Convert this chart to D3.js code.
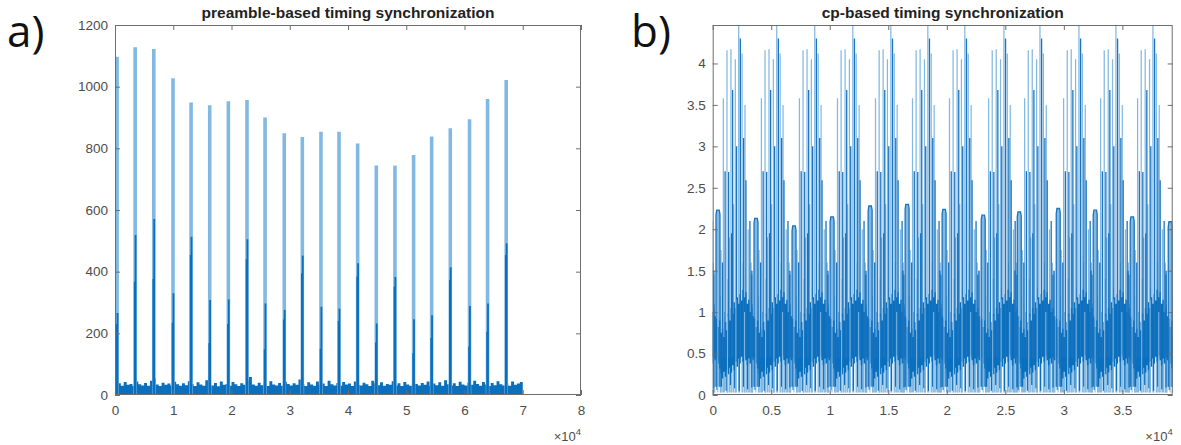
<!DOCTYPE html>
<html>
<head>
<meta charset="utf-8">
<script src="https://cdn.jsdelivr.net/npm/d3@7"></script>
<style>
  body { margin: 0; background: #fff; }
  svg { display: block; font-family: "Liberation Sans", Arial, sans-serif; }
</style>
</head>
<body>
<svg id="chart" width="1181" height="445"></svg>
<script>
// ---------- a) preamble-based timing synchronization ----------
// peak locations (x 1e4 samples) and the three levels seen at each peak
const preamblePos = [0.03, 0.34, 0.66, 0.99, 1.30, 1.62, 1.94, 2.26, 2.57, 2.90, 3.21,
                     3.53, 3.84, 4.16, 4.48, 4.80, 5.12, 5.43, 5.75, 6.08, 6.39, 6.71];
const preambleTop = [1097, 1128, 1122, 1027, 949, 940, 953, 957, 900, 849, 837,
                     854, 854, 816, 744, 744, 778, 838, 865, 894, 960, 1022];
const preambleMid = [266, 519, 571, 330, 513, 308, 310, 505, 297, 276, 452,
                     286, 280, 427, 232, 383, 246, 259, 414, 289, 297, 492];
const preambleLow = [230, 367, 376, 234, 454, 168, 230, 440, 148, 245, 395,
                     150, 240, 384, 170, 351, 136, 185, 373, 157, 205, 454];
// noise floor, one value every 500 samples from 0 to 70000
const preambleFloor = [
  60, 38, 30, 42, 33, 36, 29, 44, 35, 31, 39, 30, 46, 55, 34, 29, 40, 33, 37, 31,
  43, 35, 30, 38, 32, 45, 36, 29, 41, 34, 30, 48, 37, 31, 39, 28, 44, 33, 36, 30,
  42, 35, 29, 38, 33, 47, 58, 34, 30, 40, 32, 37, 29, 45, 34, 31, 39, 30, 43, 36,
  31, 38, 33, 50, 36, 29, 41, 34, 30, 44, 32, 37, 29, 46, 35, 31, 39, 30, 42, 34,
  37, 29, 44, 33, 31, 40, 35, 29, 46, 38, 32, 41, 30, 36, 33, 45, 31, 38, 29, 42,
  34, 30, 47, 36, 31, 39, 33, 44, 29, 37, 32, 41, 30, 48, 35, 31, 38, 29, 43, 34,
  31, 40, 33, 46, 36, 30, 42, 34, 29, 39, 32, 45, 35, 31, 38, 30, 44, 33, 37, 42, 36];
const preambleXTicks = [0, 1, 2, 3, 4, 5, 6, 7, 8];
const preambleYTicks = [0, 200, 400, 600, 800, 1000, 1200];

// ---------- b) cp-based timing synchronization ----------
// start (samples) and level of the flat ~2.2 plateau in every frame
const cpHumpX = [280, 3530, 6780, 10030, 13280, 16440, 19600, 22940, 26020, 29350, 32510, 35670, 38920];
const cpHumpLevel = [2.23, 2.13, 2.04, 2.15, 2.28, 2.30, 2.24, 2.17, 2.21, 2.25, 2.23, 2.15, 2.09];
// spikes inside one frame, offset from the plateau start (samples)
const cpLightOffset = [-230, -120, 380, 430, 520, 630, 720, 940, 1010, 1150, 1280, 1360, 1500,
                       1650, 1720, 1940, 2010, 2230, 2300, 2480, 2620, 2750, 2850, 3000, 3100];
const cpLightHeight = [1.50, 0.90, 1.20, 1.75, 0.60, 3.58, 1.00, 4.16, 1.40, 1.90, 4.17, 0.80, 2.30,
                       4.05, 1.30, 4.60, 0.90, 4.12, 1.60, 3.50, 1.00, 2.00, 0.70, 1.60, 1.10];
const cpDarkOffset = [-180, 560, 780, 1080, 1330, 1420, 1760, 2080, 2360, 2560, 2900, 3050];
const cpDarkHeight = [1.50, 1.60, 2.70, 2.69, 1.95, 3.68, 3.00, 4.30, 3.10, 2.59, 2.10, 1.45];
// short dark strokes reaching down to the bottom
const cpDipOffset = [90, 460, 870, 1240, 1600, 1990, 2350, 2700, 3060];
const cpDipLow = [0.06, 0.10, 0.05, 0.12, 0.08, 0.05, 0.10, 0.07, 0.09];
// dense low band inside one frame
const cpBandOffset = [0, 120, 250, 380, 500, 620, 750, 880, 1000, 1120, 1250, 1380, 1500,
                      1620, 1750, 1880, 2000, 2120, 2250, 2380, 2500, 2620, 2750, 2870, 3000, 3120];
const cpBandLow = [0.45, 0.38, 0.32, 0.26, 0.20, 0.28, 0.22, 0.30, 0.25, 0.33, 0.27, 0.36, 0.30,
                   0.40, 0.34, 0.44, 0.38, 0.46, 0.40, 0.48, 0.42, 0.36, 0.44, 0.38, 0.46, 0.42];
const cpBandHigh = [0.92, 0.82, 0.90, 0.75, 0.80, 0.70, 0.88, 0.78, 0.98, 0.90, 1.05, 0.98, 1.12,
                    1.05, 1.18, 1.10, 1.22, 1.14, 1.27, 1.18, 1.24, 1.10, 1.15, 1.00, 1.05, 0.95];
const cpStreakOffset = [160, 980, 1700, 2440];
const cpStreakHeight = [1.05, 0.95, 1.15, 1.00];
const cpXTicks = [0, 0.5, 1, 1.5, 2, 2.5, 3, 3.5];
const cpYTicks = [0, 0.5, 1, 1.5, 2, 2.5, 3, 3.5, 4];

const light = "#82b9e3", dark = "#0a6fbd", mid = "#1a74c0";
const axisColor = "#6e6e6e", labelColor = "#4d4d4d";

const svg = d3.select("#chart");

function drawFrame(g, x, y, xTicks, yTicks, xFmt, title, id) {
  const [x0, x1] = x.range(), [yb, yt] = y.range();

  g.append("clipPath").attr("id", id)
    .append("rect").attr("x", x0).attr("y", yt).attr("width", x1 - x0).attr("height", yb - yt);

  const style = (a) => {
    a.select(".domain").remove();
    a.selectAll(".tick line").attr("stroke", axisColor);
    a.selectAll(".tick text").attr("fill", labelColor).style("font-size", "13.5px")
      .style("font-family", '"Liberation Sans", Arial, sans-serif');
  };
  g.append("g").attr("transform", `translate(0,${yb})`)
    .call(d3.axisBottom(x).tickValues(xTicks.map(t => t * 1e4)).tickFormat(d => xFmt(d / 1e4))
      .tickSizeInner(-5).tickSizeOuter(0).tickPadding(10))
    .call(style);
  g.append("g").attr("transform", `translate(0,${yt})`)
    .call(d3.axisTop(x).tickValues(xTicks.map(t => t * 1e4)).tickFormat("")
      .tickSizeInner(-5).tickSizeOuter(0))
    .call(style);
  g.append("g").attr("transform", `translate(${x0},0)`)
    .call(d3.axisLeft(y).tickValues(yTicks).tickFormat(d => d)
      .tickSizeInner(-5).tickSizeOuter(0).tickPadding(7))
    .call(style);
  g.append("g").attr("transform", `translate(${x1},0)`)
    .call(d3.axisRight(y).tickValues(yTicks).tickFormat("")
      .tickSizeInner(-5).tickSizeOuter(0))
    .call(style);

  g.append("rect").attr("x", x0 + 0.5).attr("y", yt + 0.5)
    .attr("width", x1 - x0 - 1).attr("height", yb - yt - 1)
    .attr("fill", "none").attr("stroke", axisColor).attr("stroke-width", 1);

  g.append("text").attr("x", (x0 + x1) / 2).attr("y", 18)
    .attr("text-anchor", "middle").attr("font-weight", "bold")
    .style("font-size", "15.5px").attr("fill", "#222").text(title);

  const ex = g.append("text").attr("x", x1).attr("y", 441)
    .attr("text-anchor", "end").attr("fill", labelColor).style("font-size", "13px");
  ex.append("tspan").text("\u00d710");
  ex.append("tspan").attr("dy", -6).style("font-size", "9.5px").text("4");
}

function vlines(g, data, x, y, color, width) {
  g.append("g").selectAll("line").data(data).join("line")
    .attr("x1", d => x(d.x)).attr("x2", d => x(d.x))
    .attr("y1", d => y(d.y0)).attr("y2", d => y(d.y1))
    .attr("stroke", color).attr("stroke-width", width);
}

// ---------- panel a ----------
{
  const x = d3.scaleLinear().domain([0, 80000]).range([115, 581]);
  const y = d3.scaleLinear().domain([0, 1200]).range([395, 25]);
  const g = svg.append("g");
  drawFrame(g, x, y, preambleXTicks, preambleYTicks, d => d, "preamble-based timing synchronization", "clipA");
  const plot = g.insert("g", "g").attr("clip-path", "url(#clipA)");

  const step = 70000 / (preambleFloor.length - 1);
  plot.append("path").datum(preambleFloor)
    .attr("d", d3.area().x((d, i) => x(i * step)).y0(y(0)).y1(d => y(d)).curve(d3.curveStepAfter))
    .attr("fill", dark);

  vlines(plot, preamblePos.map((p, i) => ({ x: p * 1e4 + 60, y0: 0, y1: preambleTop[i] })), x, y, light, 3.6);
  vlines(plot, preamblePos.map((p, i) => ({ x: p * 1e4 + 130, y0: 0, y1: preambleMid[i] })), x, y, dark, 1.8);
  vlines(plot, preamblePos.map((p, i) => ({ x: p * 1e4 - 10, y0: 0, y1: preambleLow[i] })), x, y, dark, 1.8);

  svg.append("text").attr("x", 7).attr("y", 47).attr("fill", "#111")
    .style("font-family", '"Open Sans", "Noto Sans", sans-serif').style("font-size", "44px").text("a)");
}

// ---------- panel b ----------
{
  const x = d3.scaleLinear().domain([0, 39300]).range([712.7, 1172.7]);
  const y = d3.scaleLinear().domain([0, 4.464]).range([395, 25]);
  const g = svg.append("g");
  drawFrame(g, x, y, cpXTicks, cpYTicks, d => d, "cp-based timing synchronization", "clipB");
  const plot = g.insert("g", "g").attr("clip-path", "url(#clipB)");

  const period = cpHumpX[1] - cpHumpX[0];
  const starts = [cpHumpX[0] - period, ...cpHumpX];

  const lightData = [], darkData = [], streakData = [], dipData = [];
  starts.forEach(s => {
    cpLightOffset.forEach((o, j) => lightData.push({ x: s + o, y0: 0.03, y1: cpLightHeight[j] }));
    cpDarkOffset.forEach((o, j) => darkData.push({ x: s + o, y0: 0.45, y1: cpDarkHeight[j] }));
    cpStreakOffset.forEach((o, j) => streakData.push({ x: s + o, y0: 0.03, y1: cpStreakHeight[j] }));
    cpDipOffset.forEach((o, j) => dipData.push({ x: s + o, y0: cpDipLow[j], y1: 0.5 }));
  });

  vlines(plot, lightData, x, y, light, 1.25);

  // plateaus
  const hump = (s, lv) => [[s, 0.1], [s, lv - 0.06], [s + 60, lv], [s + 280, lv], [s + 340, lv - 0.05], [s + 340, 0.1]];
  const line = d3.line().x(d => x(d[0])).y(d => y(d[1]));
  plot.append("g").selectAll("path").data(cpHumpX).join("path")
    .attr("d", (s, i) => line(hump(s, cpHumpLevel[i])))
    .attr("fill", light).attr("stroke", "none");

  const band = d3.area().x(d => x(d.x)).y0(d => y(d.lo)).y1(d => y(d.hi)).curve(d3.curveStepAfter);
  plot.append("g").selectAll("path").data(starts).join("path")
    .attr("d", s => {
      const pts = cpBandOffset.map((o, j) => ({ x: s + o, lo: cpBandLow[j], hi: cpBandHigh[j] }));
      pts.push({ x: s + period, lo: cpBandLow[cpBandLow.length - 1], hi: cpBandHigh[cpBandHigh.length - 1] });
      return band(pts);
    })
    .attr("fill", dark);

  vlines(plot, dipData, x, y, dark, 1.2);
  vlines(plot, darkData, x, y, mid, 1.3);
  vlines(plot, streakData, x, y, light, 1.0);

  plot.append("g").selectAll("path").data(cpHumpX).join("path")
    .attr("d", (s, i) => line(hump(s, cpHumpLevel[i])))
    .attr("fill", "none").attr("stroke", mid).attr("stroke-width", 1.3);

  svg.append("text").attr("x", 631).attr("y", 47).attr("fill", "#111")
    .style("font-family", '"Open Sans", "Noto Sans", sans-serif').style("font-size", "44px").text("b)");
}
</script>
</body>
</html>
